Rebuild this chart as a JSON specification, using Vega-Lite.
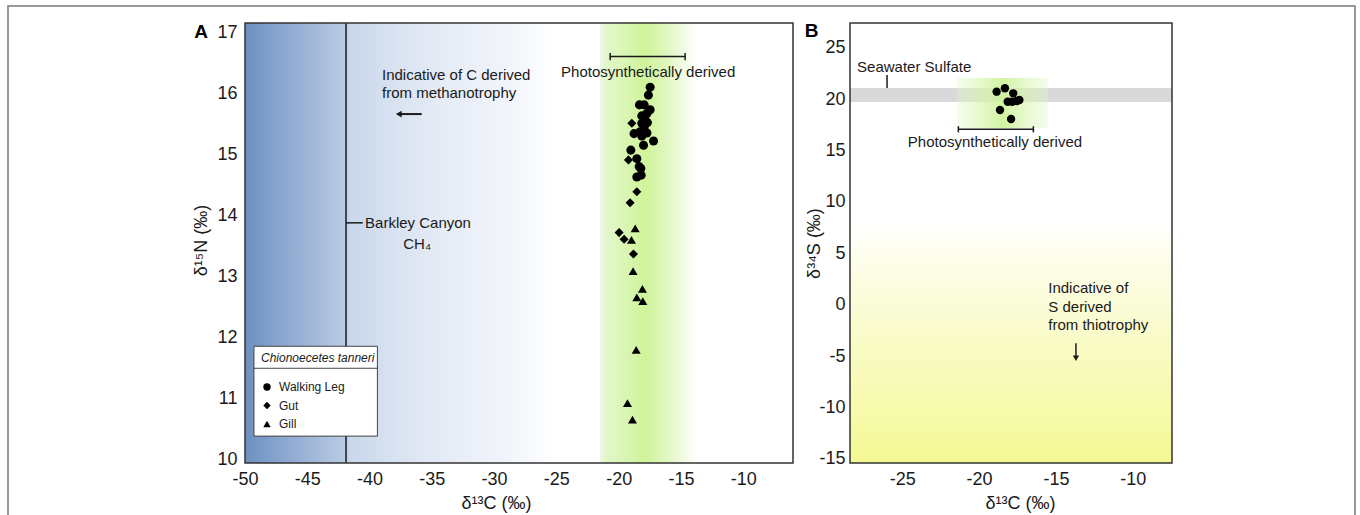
{
  "$schema": "https://vega.github.io/schema/vega-lite/v6.json",
  "width": 1347,
  "height": 515,
  "autosize": {"type": "none"},
  "padding": {"left": 8, "top": 6, "right": 5, "bottom": 0},
  "background": "white",
  "config": {
    "font": "Liberation Sans",
    "view": {"stroke": "#7a7a7a", "strokeWidth": 1.5},
    "axis": {"ticks": false, "grid": false, "domain": false, "labelFontSize": 18, "titleFontSize": 18, "labelColor": "#1a1a1a", "titleColor": "#1a1a1a", "titleFontWeight": "normal", "labelFlush": false, "labelOverlap": false, "labelFont": "Liberation Sans", "titleFont": "Liberation Sans", "labelExpr": "datum.value + ''"},
    "text": {"font": "Liberation Sans", "fontSize": 15, "color": "#1a1a1a"}
  },
  "datasets": {
    "ptsA": [
      {"d13C": -17.47, "d15N": 16.10, "tissue": "Walking Leg"},
      {"d13C": -17.61, "d15N": 15.97, "tissue": "Walking Leg"},
      {"d13C": -18.33, "d15N": 15.81, "tissue": "Walking Leg"},
      {"d13C": -17.95, "d15N": 15.81, "tissue": "Walking Leg"},
      {"d13C": -17.47, "d15N": 15.73, "tissue": "Walking Leg"},
      {"d13C": -17.73, "d15N": 15.67, "tissue": "Walking Leg"},
      {"d13C": -18.14, "d15N": 15.63, "tissue": "Walking Leg"},
      {"d13C": -17.87, "d15N": 15.56, "tissue": "Walking Leg"},
      {"d13C": -18.14, "d15N": 15.51, "tissue": "Walking Leg"},
      {"d13C": -17.69, "d15N": 15.52, "tissue": "Walking Leg"},
      {"d13C": -17.95, "d15N": 15.45, "tissue": "Walking Leg"},
      {"d13C": -18.76, "d15N": 15.34, "tissue": "Walking Leg"},
      {"d13C": -18.27, "d15N": 15.37, "tissue": "Walking Leg"},
      {"d13C": -17.73, "d15N": 15.35, "tissue": "Walking Leg"},
      {"d13C": -18.14, "d15N": 15.30, "tissue": "Walking Leg"},
      {"d13C": -17.20, "d15N": 15.22, "tissue": "Walking Leg"},
      {"d13C": -18.00, "d15N": 15.15, "tissue": "Walking Leg"},
      {"d13C": -19.02, "d15N": 15.07, "tissue": "Walking Leg"},
      {"d13C": -18.54, "d15N": 14.93, "tissue": "Walking Leg"},
      {"d13C": -18.35, "d15N": 14.80, "tissue": "Walking Leg"},
      {"d13C": -18.22, "d15N": 14.77, "tissue": "Walking Leg"},
      {"d13C": -18.54, "d15N": 14.63, "tissue": "Walking Leg"},
      {"d13C": -18.19, "d15N": 14.66, "tissue": "Walking Leg"},
      {"d13C": -18.94, "d15N": 15.51, "tissue": "Gut"},
      {"d13C": -19.21, "d15N": 14.91, "tissue": "Gut"},
      {"d13C": -18.54, "d15N": 14.39, "tissue": "Gut"},
      {"d13C": -19.08, "d15N": 14.21, "tissue": "Gut"},
      {"d13C": -19.96, "d15N": 13.72, "tissue": "Gut"},
      {"d13C": -19.56, "d15N": 13.61, "tissue": "Gut"},
      {"d13C": -18.81, "d15N": 13.37, "tissue": "Gut"},
      {"d13C": -18.67, "d15N": 13.79, "tissue": "Gill"},
      {"d13C": -18.97, "d15N": 13.60, "tissue": "Gill"},
      {"d13C": -18.84, "d15N": 13.09, "tissue": "Gill"},
      {"d13C": -18.09, "d15N": 12.80, "tissue": "Gill"},
      {"d13C": -18.54, "d15N": 12.66, "tissue": "Gill"},
      {"d13C": -18.06, "d15N": 12.60, "tissue": "Gill"},
      {"d13C": -18.59, "d15N": 11.80, "tissue": "Gill"},
      {"d13C": -19.29, "d15N": 10.93, "tissue": "Gill"},
      {"d13C": -18.89, "d15N": 10.66, "tissue": "Gill"}
    ],
    "ptsB": [
      {"d13C": -18.86, "d34S": 20.72},
      {"d13C": -18.32, "d34S": 21.05},
      {"d13C": -17.78, "d34S": 20.56},
      {"d13C": -18.14, "d34S": 19.74},
      {"d13C": -17.84, "d34S": 19.74},
      {"d13C": -17.55, "d34S": 19.81},
      {"d13C": -17.38, "d34S": 19.91},
      {"d13C": -18.64, "d34S": 18.94},
      {"d13C": -17.92, "d34S": 18.06}
    ]
  },
  "layer": [
    {
      "layer": [
        {
          "data": {"values": [{"c_from": -50, "c_to": -25, "n_from": 9.95, "n_to": 17.15}]},
          "mark": {"type": "rect", "fill": {"gradient": "linear", "x1": 0, "y1": 0, "x2": 1, "y2": 0, "stops": [
            {"offset": 0, "color": "#6d90c0"},
            {"offset": 0.12, "color": "#8aa7cf"},
            {"offset": 0.32, "color": "#b9cbe4"},
            {"offset": 0.34, "color": "#cad8ec"},
            {"offset": 0.6, "color": "#e3eaf5"},
            {"offset": 0.85, "color": "#f2f5fb"},
            {"offset": 1, "color": "#ffffff"}]}},
          "encoding": {
            "x": {"field": "c_from", "type": "quantitative",
                  "scale": {"domain": [-50, -6], "range": [237, 785], "nice": false, "zero": false},
                  "axis": {"title": "δ¹³C (‰)", "orient": "bottom", "offset": -58, "values": [-50, -45, -40, -35, -30, -25, -20, -15, -10], "labelPadding": 7, "titleX": 488, "titleY": 40, "titleBaseline": "middle", "titleAlign": "center"}},
            "x2": {"field": "c_to"},
            "y": {"field": "n_from", "type": "quantitative",
                  "scale": {"domain": [9.95, 17.15], "range": [457, 17], "nice": false, "zero": false},
                  "axis": {"title": "δ¹⁵N (‰)", "orient": "left", "offset": -237, "values": [10, 11, 12, 13, 14, 15, 16, 17], "labelPadding": 8, "titleX": -44, "titleY": 234, "titleAngle": -90, "titleBaseline": "middle", "titleAlign": "center"}},
            "y2": {"field": "n_to"}
          }
        },
        {
          "data": {"values": [{"c_from": -21.5, "c_to": -13.7, "n_from": 9.95, "n_to": 17.15}]},
          "mark": {"type": "rect", "fill": {"gradient": "linear", "x1": 0, "y1": 0, "x2": 1, "y2": 0, "stops": [
            {"offset": 0, "color": "#eff9e6"},
            {"offset": 0.06, "color": "#e3f7cc"},
            {"offset": 0.47, "color": "#cff499"},
            {"offset": 0.72, "color": "#e3f7c6"},
            {"offset": 1, "color": "#ffffff"}]}},
          "encoding": {
            "x": {"field": "c_from", "type": "quantitative"},
            "x2": {"field": "c_to"},
            "y": {"field": "n_from", "type": "quantitative"},
            "y2": {"field": "n_to"}
          }
        },
        {
          "data": {"values": [
            {"c_from": -41.89, "c_to": -41.89, "n_from": 9.95, "n_to": 17.15},
            {"c_from": -41.89, "c_to": -40.55, "n_from": 13.88, "n_to": 13.88},
            {"c_from": -20.68, "c_to": -14.66, "n_from": 16.6, "n_to": 16.6},
            {"c_from": -20.68, "c_to": -20.68, "n_from": 16.54, "n_to": 16.66},
            {"c_from": -14.66, "c_to": -14.66, "n_from": 16.54, "n_to": 16.66}
          ]},
          "mark": {"type": "rule", "color": "#1a1a1a", "strokeWidth": 1.5},
          "encoding": {
            "x": {"field": "c_from", "type": "quantitative"},
            "x2": {"field": "c_to"},
            "y": {"field": "n_from", "type": "quantitative"},
            "y2": {"field": "n_to"}
          }
        },
        {
          "data": {"values": [{"c_from": -37.6, "c_to": -35.81, "n_from": 15.66, "n_to": 15.66}]},
          "mark": {"type": "rule", "color": "#1a1a1a", "strokeWidth": 2},
          "encoding": {
            "x": {"field": "c_from", "type": "quantitative"},
            "x2": {"field": "c_to"},
            "y": {"field": "n_from", "type": "quantitative"},
            "y2": {"field": "n_to"}
          }
        },
        {
          "data": {"values": [{"c_from": -37.65, "n_from": 15.66}]},
          "mark": {"type": "point", "shape": "triangle-left", "filled": true, "color": "#1a1a1a", "opacity": 1, "size": 45},
          "encoding": {
            "x": {"field": "c_from", "type": "quantitative"},
            "y": {"field": "n_from", "type": "quantitative"}
          }
        },
        {
          "data": {"values": [{"c_from": -49.28, "c_to": -39.37, "n_from": 10.39, "n_to": 11.86}]},
          "mark": {"type": "rect", "fill": "white", "stroke": "#444444", "strokeWidth": 1},
          "encoding": {
            "x": {"field": "c_from", "type": "quantitative"},
            "x2": {"field": "c_to"},
            "y": {"field": "n_from", "type": "quantitative"},
            "y2": {"field": "n_to"}
          }
        },
        {
          "data": {"values": [{"c_from": -49.28, "c_to": -39.37, "n_from": 11.5, "n_to": 11.5}]},
          "mark": {"type": "rule", "color": "#444444", "strokeWidth": 1},
          "encoding": {
            "x": {"field": "c_from", "type": "quantitative"},
            "x2": {"field": "c_to"},
            "y": {"field": "n_from", "type": "quantitative"},
            "y2": {"field": "n_to"}
          }
        },
        {
          "data": {"values": [
            {"c_at": -39.0, "n_at": 16.30, "label": "Indicative of C derived"},
            {"c_at": -39.0, "n_at": 16.0, "label": "from methanotrophy"},
            {"c_at": -40.36, "n_at": 13.88, "label": "Barkley Canyon"}
          ]},
          "mark": {"type": "text", "align": "left", "baseline": "middle"},
          "encoding": {
            "x": {"field": "c_at", "type": "quantitative"},
            "y": {"field": "n_at", "type": "quantitative"},
            "text": {"field": "label"}
          }
        },
        {
          "data": {"values": [
            {"c_at": -17.63, "n_at": 16.35, "label": "Photosynthetically derived"},
            {"c_at": -36.18, "n_at": 13.53, "label": "CH₄"}
          ]},
          "mark": {"type": "text", "align": "center", "baseline": "middle"},
          "encoding": {
            "x": {"field": "c_at", "type": "quantitative"},
            "y": {"field": "n_at", "type": "quantitative"},
            "text": {"field": "label"}
          }
        },
        {
          "data": {"values": [{"c_at": -53.53, "n_at": 17.0, "label": "A"}]},
          "mark": {"type": "text", "align": "center", "baseline": "middle", "fontSize": 19, "fontWeight": "bold", "color": "#000000"},
          "encoding": {
            "x": {"field": "c_at", "type": "quantitative"},
            "y": {"field": "n_at", "type": "quantitative"},
            "text": {"field": "label"}
          }
        },
        {
          "data": {"values": [{"c_from": -50, "c_to": -6, "n_from": 9.95, "n_to": 17.15}]},
          "mark": {"type": "rect", "fillOpacity": 0, "stroke": "#333333", "strokeWidth": 1.5},
          "encoding": {
            "x": {"field": "c_from", "type": "quantitative"},
            "x2": {"field": "c_to"},
            "y": {"field": "n_from", "type": "quantitative"},
            "y2": {"field": "n_to"}
          }
        },
        {
          "data": {"name": "ptsA"},
          "mark": {"type": "point", "filled": true, "color": "#000000", "opacity": 1, "size": 82},
          "encoding": {
            "x": {"field": "d13C", "type": "quantitative"},
            "y": {"field": "d15N", "type": "quantitative"},
            "shape": {"field": "tissue", "type": "nominal",
              "scale": {"domain": ["Walking Leg", "Gut", "Gill"], "range": ["circle", "diamond", "triangle-up"]},
              "legend": {"title": "Chionoecetes tanneri", "orient": "none", "legendX": 253, "legendY": 347, "padding": 0,
                "titleFontStyle": "italic", "titleFontWeight": "normal", "titleFontSize": 12, "titleColor": "#1a1a1a", "titleFont": "Liberation Sans", "titlePadding": 16,
                "labelFontSize": 12, "labelColor": "#1a1a1a", "labelFont": "Liberation Sans", "symbolSize": 55, "rowPadding": 6.5, "labelOffset": 6, "symbolStrokeWidth": 0, "symbolFillColor": "#000000"}}
          }
        }
      ]
    },
    {
      "layer": [
        {
          "data": {"values": [{"c_from": -28.4, "c_to": -7.45, "s_from": -15.4, "s_to": 8}]},
          "mark": {"type": "rect", "fill": {"gradient": "linear", "x1": 0, "y1": 0, "x2": 0, "y2": 1, "stops": [
            {"offset": 0, "color": "#ffffff"},
            {"offset": 0.2, "color": "#fdfde6"},
            {"offset": 0.5, "color": "#f9fbc6"},
            {"offset": 0.8, "color": "#f6faa9"},
            {"offset": 1, "color": "#f3f893"}]}},
          "encoding": {
            "x": {"field": "c_from", "type": "quantitative",
                  "scale": {"domain": [-28.4, -7.45], "range": [842, 1164], "nice": false, "zero": false},
                  "axis": {"title": "δ¹³C (‰)", "orient": "bottom", "offset": -58, "values": [-25, -20, -15, -10], "labelPadding": 7, "titleX": 1012, "titleY": 40, "titleBaseline": "middle", "titleAlign": "center"}},
            "x2": {"field": "c_to"},
            "y": {"field": "s_from", "type": "quantitative",
                  "scale": {"domain": [-15.4, 27.4], "range": [457, 17], "nice": false, "zero": false},
                  "axis": {"title": "δ³⁴S (‰)", "orient": "left", "offset": -842, "values": [-15, -10, -5, 0, 5, 10, 15, 20, 25], "labelPadding": 5, "titleX": -36, "titleY": 237, "titleAngle": -90, "titleBaseline": "middle", "titleAlign": "center"}},
            "y2": {"field": "s_to"}
          }
        },
        {
          "data": {"values": [{"c_from": -28.4, "c_to": -7.45, "s_from": 19.71, "s_to": 21.08}]},
          "mark": {"type": "rect", "fill": "#d9d9d9"},
          "encoding": {
            "x": {"field": "c_from", "type": "quantitative"},
            "x2": {"field": "c_to"},
            "y": {"field": "s_from", "type": "quantitative"},
            "y2": {"field": "s_to"}
          }
        },
        {
          "data": {"values": [{"c_from": -21.44, "c_to": -15.52, "s_from": 17.19, "s_to": 22.05}]},
          "mark": {"type": "rect", "fill": {"gradient": "linear", "x1": 0, "y1": 0, "x2": 1, "y2": 0, "stops": [
            {"offset": 0, "color": "rgba(225,248,200,0.35)"},
            {"offset": 0.5, "color": "rgba(205,243,150,0.9)"},
            {"offset": 1, "color": "rgba(225,248,200,0.35)"}]}},
          "encoding": {
            "x": {"field": "c_from", "type": "quantitative"},
            "x2": {"field": "c_to"},
            "y": {"field": "s_from", "type": "quantitative"},
            "y2": {"field": "s_to"}
          }
        },
        {
          "data": {"values": [
            {"c_from": -25.99, "c_to": -25.99, "s_from": 21.08, "s_to": 22.34},
            {"c_from": -21.35, "c_to": -16.47, "s_from": 17.06, "s_to": 17.06},
            {"c_from": -21.35, "c_to": -21.35, "s_from": 16.76, "s_to": 17.36},
            {"c_from": -16.47, "c_to": -16.47, "s_from": 16.76, "s_to": 17.36}
          ]},
          "mark": {"type": "rule", "color": "#1a1a1a", "strokeWidth": 1.5},
          "encoding": {
            "x": {"field": "c_from", "type": "quantitative"},
            "x2": {"field": "c_to"},
            "y": {"field": "s_from", "type": "quantitative"},
            "y2": {"field": "s_to"}
          }
        },
        {
          "data": {"values": [{"c_from": -13.7, "c_to": -13.7, "s_from": -3.76, "s_to": -5.0}]},
          "mark": {"type": "rule", "color": "#1a1a1a", "strokeWidth": 1.5},
          "encoding": {
            "x": {"field": "c_from", "type": "quantitative"},
            "x2": {"field": "c_to"},
            "y": {"field": "s_from", "type": "quantitative"},
            "y2": {"field": "s_to"}
          }
        },
        {
          "data": {"values": [{"c_from": -13.7, "s_from": -5.2}]},
          "mark": {"type": "point", "shape": "triangle-down", "filled": true, "color": "#1a1a1a", "opacity": 1, "size": 40},
          "encoding": {
            "x": {"field": "c_from", "type": "quantitative"},
            "y": {"field": "s_from", "type": "quantitative"}
          }
        },
        {
          "data": {"values": [
            {"c_at": -27.94, "s_at": 23.15, "label": "Seawater Sulfate"},
            {"c_at": -15.5, "s_at": 1.59, "label": "Indicative of"},
            {"c_at": -15.5, "s_at": -0.2, "label": "S derived"},
            {"c_at": -15.5, "s_at": -1.98, "label": "from thiotrophy"}
          ]},
          "mark": {"type": "text", "align": "left", "baseline": "middle"},
          "encoding": {
            "x": {"field": "c_at", "type": "quantitative"},
            "y": {"field": "s_at", "type": "quantitative"},
            "text": {"field": "label"}
          }
        },
        {
          "data": {"values": [{"c_at": -18.97, "s_at": 15.85, "label": "Photosynthetically derived"}]},
          "mark": {"type": "text", "align": "center", "baseline": "middle"},
          "encoding": {
            "x": {"field": "c_at", "type": "quantitative"},
            "y": {"field": "s_at", "type": "quantitative"},
            "text": {"field": "label"}
          }
        },
        {
          "data": {"values": [{"c_at": -30.9, "s_at": 26.62, "label": "B"}]},
          "mark": {"type": "text", "align": "center", "baseline": "middle", "fontSize": 19, "fontWeight": "bold", "color": "#000000"},
          "encoding": {
            "x": {"field": "c_at", "type": "quantitative"},
            "y": {"field": "s_at", "type": "quantitative"},
            "text": {"field": "label"}
          }
        },
        {
          "data": {"values": [{"c_from": -28.4, "c_to": -7.45, "s_from": -15.4, "s_to": 27.4}]},
          "mark": {"type": "rect", "fillOpacity": 0, "stroke": "#333333", "strokeWidth": 1.5},
          "encoding": {
            "x": {"field": "c_from", "type": "quantitative"},
            "x2": {"field": "c_to"},
            "y": {"field": "s_from", "type": "quantitative"},
            "y2": {"field": "s_to"}
          }
        },
        {
          "data": {"name": "ptsB"},
          "mark": {"type": "point", "filled": true, "color": "#000000", "opacity": 1, "size": 70},
          "encoding": {
            "x": {"field": "d13C", "type": "quantitative"},
            "y": {"field": "d34S", "type": "quantitative"}
          }
        }
      ]
    }
  ],
  "resolve": {
    "scale": {"x": "independent", "y": "independent"},
    "axis": {"x": "independent", "y": "independent"}
  }
}
